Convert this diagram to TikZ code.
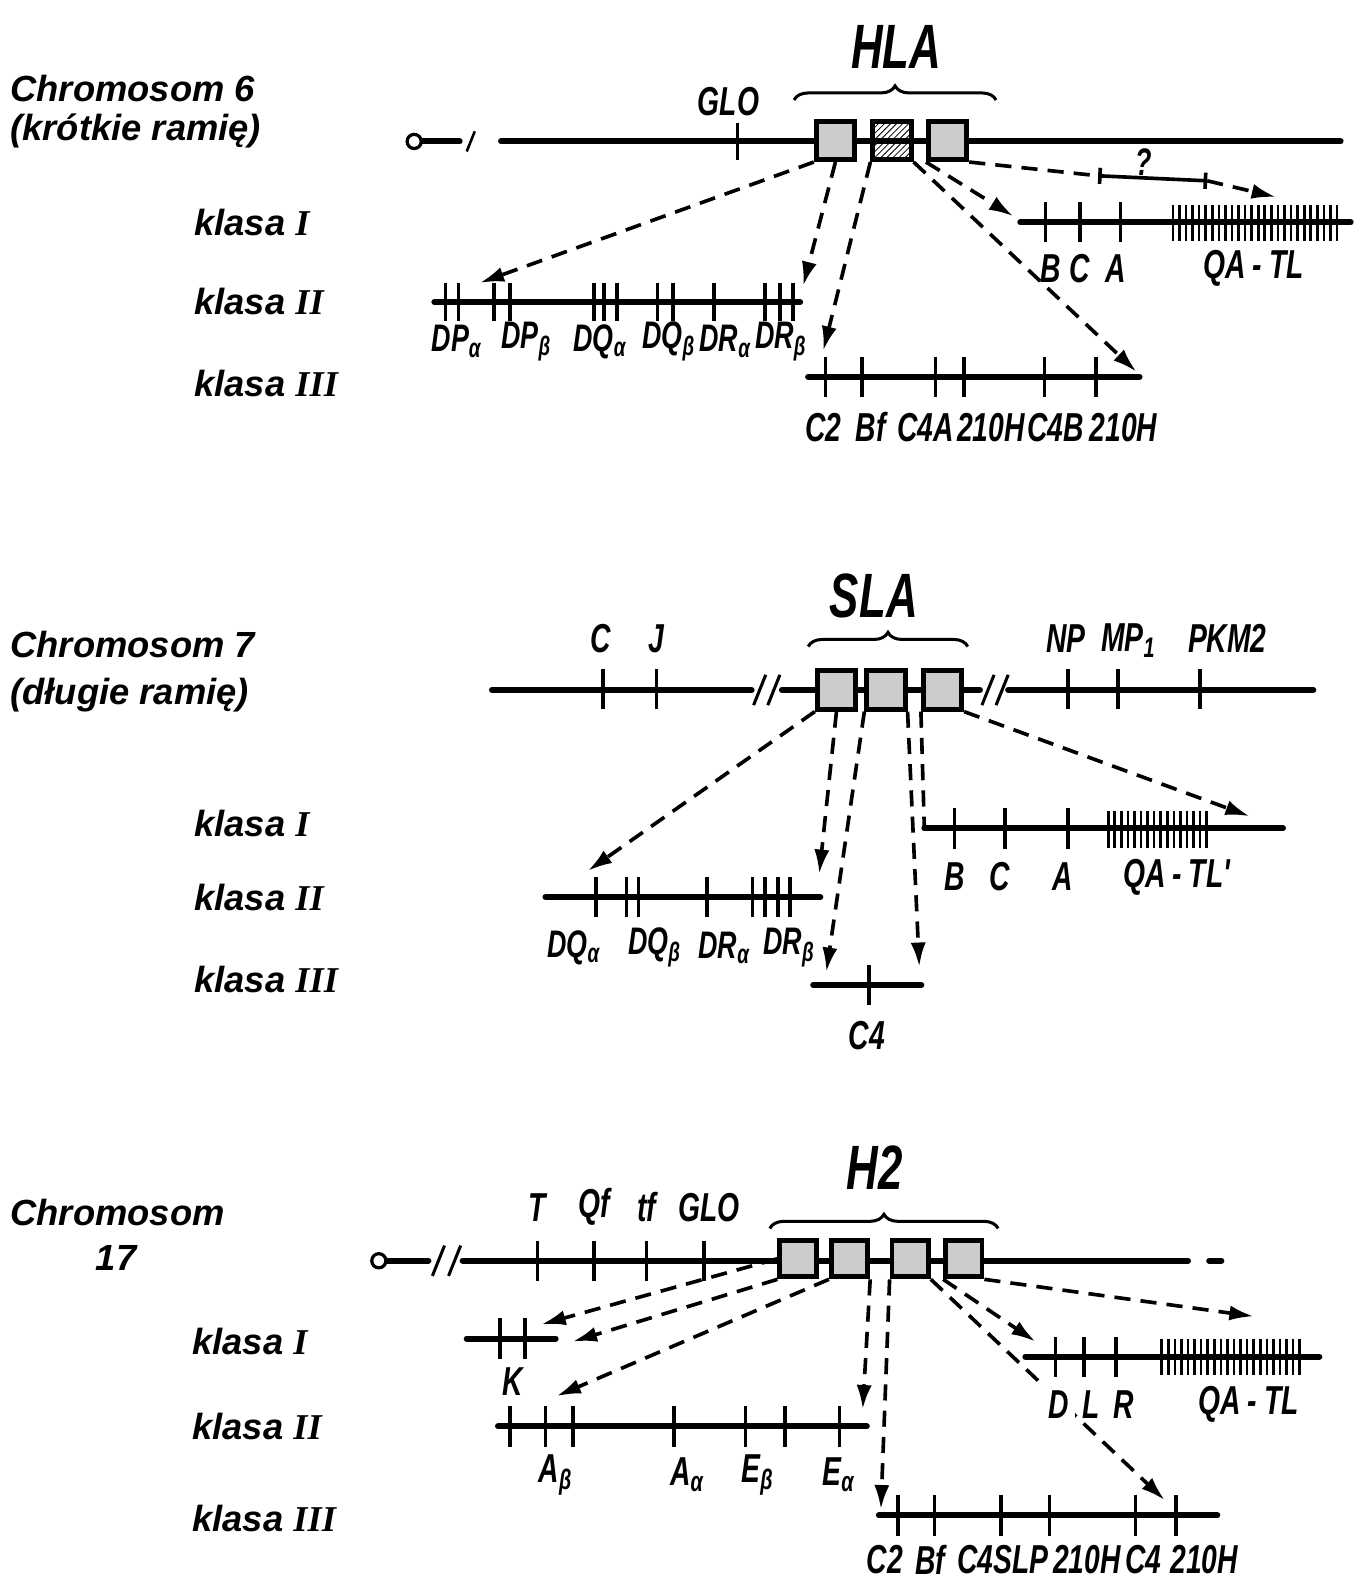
\documentclass[tikz,border=0pt]{standalone}
\usepackage{fontspec}
\setmainfont{Liberation Sans}
\newfontfamily\condfont{Liberation Sans}[FakeStretch=0.7]
\newfontfamily\romfont{Liberation Serif}
\usetikzlibrary{arrows.meta,decorations.pathreplacing,patterns}
\newcommand{\rnum}[1]{{\romfont\bfseries\itshape #1}}

\begin{document}
\begin{tikzpicture}[x=0.5pt,y=-0.5pt,
  title/.style={anchor=west,inner sep=0pt,font=\bfseries\itshape\fontsize{18}{22}\selectfont},
  klasa/.style={anchor=west,inner sep=0pt,font=\bfseries\itshape\fontsize{18}{22}\selectfont},
  gene/.style={inner sep=0pt,font=\condfont\bfseries\itshape\fontsize{20}{24}\selectfont},
  small/.style={inner sep=0pt,font=\condfont\bfseries\itshape\fontsize{19}{22}\selectfont},
  locus/.style={inner sep=0pt,font=\condfont\bfseries\itshape\fontsize{31}{36}\selectfont},
  chrom/.style={line width=3pt,line cap=round},
  tk/.style={line width=1.8pt},
  fine/.style={line width=1.3pt},
  gbox/.style={draw,line width=2.4pt,minimum size=19pt,inner sep=0pt,fill=gray!40},
  hbox/.style={draw,line width=2.4pt,minimum size=19pt,inner sep=0pt,pattern=north east lines},
  cen/.style={draw,circle,line width=1.6pt,minimum size=7pt,inner sep=0pt,fill=white},
  darr/.style={line width=1.8pt,dash pattern=on 8pt off 5pt,-{Latex[length=12pt,width=7.5pt]}},
  dln/.style={line width=1.8pt,dash pattern=on 8pt off 5pt},
  brc/.style={decorate,decoration={brace,amplitude=7pt},line width=1.5pt}]
\useasboundingbox (0,0) rectangle (1342,1568);

% Chromosom 6
\node[title] (t6a) at (10,88) {Chromosom 6};
\node[title] (t6b) at (10,130) {(krótkie ramię)};
\node[klasa] (k6a) at (192,220) {klasa \rnum{I}};
\node[klasa] (k6b) at (192,298) {klasa \rnum{II}};
\node[klasa] (k6c) at (192,380) {klasa \rnum{III}};

\node[cen] (cen6) at (410,140) {};
\coordinate (c6h) at (455,140);
\coordinate (c6l) at (496,140);
\coordinate (c6r) at (1327,140);
\draw[chrom] (cen6.east) -- (c6h);
\draw[fine] (462,150) -- (470,130);
\draw[chrom] (c6l) -- (c6r);
\draw[tk] (730,122) -- (730,158);
\node[gene] (glo6) at (721,101) {GLO};
\node[gbox] (h1) at (827,139) {};
\node[hbox] (h2) at (883,139) {};
\node[gbox] (h3) at (938,139) {};
\draw[brc] (786,99) -- (986,99);
\node[locus] (hla) at (887,46) {HLA};

\coordinate (l6Ia) at (1010,220);
\coordinate (l6Ib) at (1337,220);
\draw[chrom] (l6Ia) -- (l6Ib);
\foreach \x in {1035,1069,1109} \draw[tk] (\x,200) -- (\x,240);
\foreach \x in {1161,1167.5,...,1326} \draw[fine] (\x,203) -- (\x,239);
\node[gene] (g6B) at (1040,266) {B};
\node[gene] (g6C) at (1069,266) {C};
\node[gene] (g6A) at (1104,266) {A};
\node[gene] (g6Q) at (1241,266) {QA\,-\,TL};

\coordinate (l6IIa) at (430,299);
\coordinate (l6IIb) at (792,299);
\draw[chrom] (l6IIa) -- (l6IIb);
\foreach \x in {441,454,489,505,588,598,611,651,666,707,757,772,785} \draw[tk] (\x,280) -- (\x,318);
\node[small] (g6dpa) at (452,338) {DP\textsubscript{α}};
\node[small] (g6dpb) at (521,338) {DP\textsubscript{β}};
\node[small] (g6dqa) at (594,338) {DQ\textsubscript{α}};
\node[small] (g6dqb) at (662,338) {DQ\textsubscript{β}};
\node[small] (g6dra) at (718,338) {DR\textsubscript{α}};
\node[small] (g6drb) at (773,338) {DR\textsubscript{β}};

\coordinate (l6IIIa) at (800,373);
\coordinate (l6IIIb) at (1128,373);
\draw[chrom] (l6IIIa) -- (l6IIIb);
\foreach \x in {817,853,926,954,1034,1085} \draw[tk] (\x,353) -- (\x,393);
\node[gene] (g6c2) at (815,423) {C2};
\node[gene] (g6bf) at (862,423) {Bf};
\node[gene] (g6c4a) at (916,423) {C4A};
\node[gene] (g6oh1) at (981,423) {210H};
\node[gene] (g6c4b) at (1045,423) {C4B};
\node[gene] (g6oh2) at (1112,423) {210H};

\coordinate (a6a) at (475,280);
\coordinate (a6b) at (795,283);
\coordinate (a6c) at (815,347);
\coordinate (a6d) at (1125,368);
\coordinate (a6e) at (1003,214);
\coordinate (q6a) at (1087,174);
\coordinate (q6b) at (1195,179);
\coordinate (a6f) at (1263,195);
\draw[darr] (h1.south west) -- (a6a);
\draw[darr] (h1.south) -- (a6b);
\draw[darr] (h2.south west) -- (a6c);
\draw[darr] (h2.south east) -- (a6d);
\draw[darr] (h3.south west) -- (a6e);
\draw[dln] (h3.south east) -- (q6a);
\draw[line width=1.8pt,{Bar[width=8pt]}-{Bar[width=8pt]}] (q6a) -- (q6b);
\node[small] (qm) at (1132,160) {?};
\draw[darr] (q6b) -- (a6f);

% Chromosom 7
\node[title] (t7a) at (10,638) {Chromosom 7};
\node[title] (t7b) at (10,688) {(długie ramię)};
\node[klasa] (k7a) at (192,815) {klasa \rnum{I}};
\node[klasa] (k7b) at (192,888) {klasa \rnum{II}};
\node[klasa] (k7c) at (192,970) {klasa \rnum{III}};

\coordinate (m7a) at (487,683);
\coordinate (m7b) at (744,683);
\coordinate (m7c) at (774,683);
\coordinate (m7d) at (970,683);
\coordinate (m7e) at (998,683);
\coordinate (m7f) at (1300,683);
\draw[chrom] (m7a) -- (m7b);
\draw[chrom] (m7c) -- (m7d);
\draw[chrom] (m7e) -- (m7f);
\foreach \x in {752,766,978,992} \draw[line width=1.5pt] ({\x-6},698) -- ({\x+6},668);
\foreach \x in {597,650,1057,1107,1188} \draw[tk] (\x,662) -- (\x,702);
\node[gene] (g7C) at (595,632) {C};
\node[gene] (g7J) at (650,632) {J};
\node[gene] (g7NP) at (1055,632) {NP};
\node[gene] (g7MP) at (1117,634) {MP\textsubscript{1}};
\node[gene] (g7PK) at (1215,632) {PKM2};
\node[gbox] (s1) at (828,683) {};
\node[gbox] (s2) at (877,683) {};
\node[gbox] (s3) at (933,683) {};
\draw[brc] (800,640) -- (958,640);
\node[locus] (sla) at (865,590) {SLA};

\coordinate (l7Ia) at (915,820);
\coordinate (l7Ib) at (1270,820);
\draw[chrom] (l7Ia) -- (l7Ib);
\foreach \x in {945,995,1057} \draw[tk] (\x,800) -- (\x,840);
\foreach \x in {1097,1103.5,...,1198} \draw[fine] (\x,803) -- (\x,839);
\node[gene] (g7B) at (945,868) {B};
\node[gene] (g7Cc) at (990,868) {C};
\node[gene] (g7A) at (1052,868) {A};
\node[gene] (g7Q) at (1165,868) {QA\,-\,TL'};

\coordinate (l7IIa) at (540,888);
\coordinate (l7IIb) at (812,888);
\draw[chrom] (l7IIa) -- (l7IIb);
\foreach \x in {590,620,632,700,745,757,770,782} \draw[tk] (\x,868) -- (\x,908);
\node[small] (g7dqa) at (568,938) {DQ\textsubscript{α}};
\node[small] (g7dqb) at (648,938) {DQ\textsubscript{β}};
\node[small] (g7dra) at (717,938) {DR\textsubscript{α}};
\node[small] (g7drb) at (781,938) {DR\textsubscript{β}};

\coordinate (l7IIIa) at (805,975);
\coordinate (l7IIIb) at (912,975);
\draw[chrom] (l7IIIa) -- (l7IIIb);
\draw[tk] (860,955) -- (860,995);
\node[gene] (g7c4) at (858,1025) {C4};

\coordinate (a7a) at (582,862);
\coordinate (a7b) at (811,865);
\coordinate (a7c) at (818,962);
\coordinate (a7d) at (910,957);
\coordinate (a7f) at (1237,808);
\draw[darr] (s1.south west) -- (a7a);
\draw[darr] (s1.south) -- (a7b);
\draw[darr] (s2.south west) -- (a7c);
\draw[darr] (s2.south east) -- (a7d);
\draw[dln] (s3.south west) -- (l7Ia);
\draw[darr] (s3.south east) -- (a7f);

% Chromosom 17
\node[title] (t17a) at (10,1200) {Chromosom};
\node[title,anchor=center] (t17b) at (115,1245) {17};
\node[klasa] (k17a) at (190,1328) {klasa \rnum{I}};
\node[klasa] (k17b) at (190,1412) {klasa \rnum{II}};
\node[klasa] (k17c) at (190,1503) {klasa \rnum{III}};

\node[cen] (cen17) at (375,1248) {};
\coordinate (m17a) at (424,1248);
\coordinate (m17b) at (458,1248);
\coordinate (m17c) at (1176,1248);
\coordinate (m17d) at (1197,1248);
\coordinate (m17e) at (1209,1248);
\draw[chrom] (cen17.east) -- (m17a);
\draw[chrom] (m17b) -- (m17c);
\draw[chrom] (m17d) -- (m17e);
\foreach \x in {434,450} \draw[line width=1.5pt] ({\x-6},1263) -- ({\x+6},1233);
\foreach \x in {532,588,640,697} \draw[tk] (\x,1228) -- (\x,1268);
\node[gene] (g17T) at (532,1195) {T};
\node[gene] (g17Qf) at (588,1195) {Qf};
\node[gene] (g17tf) at (640,1195) {tf};
\node[gene] (g17GLO) at (702,1195) {GLO};
\node[gbox,minimum size=18pt] (b1) at (790,1246) {};
\node[gbox,minimum size=18pt] (b2) at (841,1246) {};
\node[gbox,minimum size=18pt] (b3) at (901,1246) {};
\node[gbox,minimum size=18pt] (b4) at (954,1246) {};
\draw[brc] (762,1216) -- (988,1216);
\node[locus] (h2) at (866,1156) {H2};

\coordinate (l17Ka) at (462,1325);
\coordinate (l17Kb) at (550,1325);
\draw[chrom] (l17Ka) -- (l17Kb);
\foreach \x in {495,520} \draw[tk] (\x,1305) -- (\x,1345);
\node[gene] (g17K) at (508,1368) {K};

\coordinate (l17Ia) at (1015,1343);
\coordinate (l17Ib) at (1306,1343);
\draw[chrom] (l17Ia) -- (l17Ib);
\foreach \x in {1045,1073,1105} \draw[tk] (\x,1323) -- (\x,1363);
\foreach \x in {1150,1156.5,...,1290} \draw[fine] (\x,1325) -- (\x,1361);

\coordinate (l17IIa) at (493,1412);
\coordinate (l17IIb) at (858,1412);
\draw[chrom] (l17IIa) -- (l17IIb);
\foreach \x in {505,540,567,667,738,777,831} \draw[tk] (\x,1392) -- (\x,1432);
\node[gene] (g17ab) at (550,1460) {A\textsubscript{β}};
\node[gene] (g17aa) at (680,1460) {A\textsubscript{α}};
\node[gene] (g17eb) at (750,1460) {E\textsubscript{β}};
\node[gene] (g17ea) at (830,1460) {E\textsubscript{α}};

\coordinate (l17IIIa) at (870,1500);
\coordinate (l17IIIb) at (1205,1500);
\draw[chrom] (l17IIIa) -- (l17IIIb);
\foreach \x in {889,925,991,1039,1124,1164} \draw[tk] (\x,1480) -- (\x,1520);
\node[gene] (g17c2) at (876,1544) {C2};
\node[gene] (g17bf) at (921,1544) {Bf};
\node[gene] (g17slp) at (993,1544) {C4SLP};
\node[gene] (g17oh1) at (1076,1544) {210H};
\node[gene] (g17c4) at (1132,1544) {C4};
\node[gene] (g17oh2) at (1192,1544) {210H};

\coordinate (a17a) at (536,1311);
\coordinate (a17b) at (567,1328);
\coordinate (a17c) at (551,1382);
\coordinate (a17d) at (854,1395);
\coordinate (a17e) at (872,1494);
\coordinate (a17f) at (1153,1485);
\coordinate (a17g) at (1025,1328);
\coordinate (a17h) at (1241,1303);
\draw[darr] (b1.west) -- (a17a);
\draw[darr] (b1.south west) -- (a17b);
\draw[darr] (b2.south west) -- (a17c);
\draw[darr] (b2.south east) -- (a17d);
\draw[darr] (b3.south west) -- (a17e);
\draw[darr] (b3.south east) -- (a17f);
\draw[darr] (b4.south west) -- (a17g);
\draw[darr] (b4.south east) -- (a17h);
\node[gene,fill=white,inner sep=3pt] (g17D) at (1048,1390) {D};
\node[gene] (g17L) at (1080,1390) {L};
\node[gene] (g17R) at (1112,1390) {R};
\node[gene] (g17Q) at (1236,1390) {QA\,-\,TL};
\end{tikzpicture}
\end{document}
